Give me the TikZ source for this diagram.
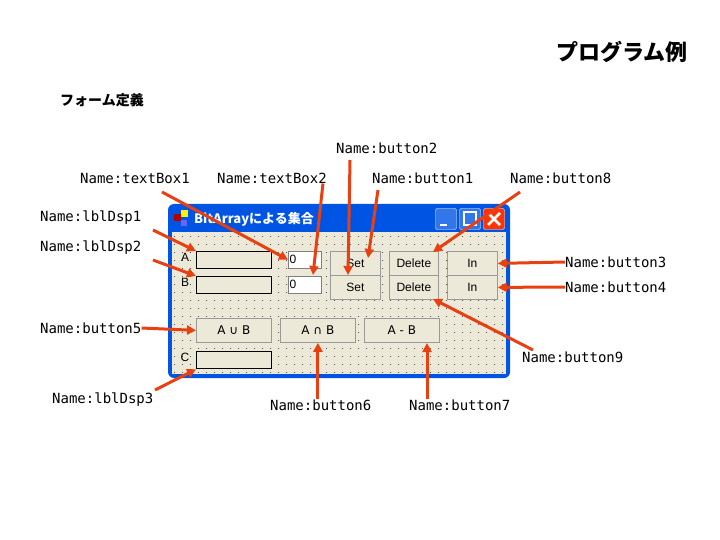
\documentclass[tikz,border=0pt]{standalone}
\usepackage{fontspec}
\newfontfamily\jp{Noto Sans CJK JP}
\newfontfamily\mono{DejaVu Sans Mono}
\newfontfamily\ui{Liberation Sans}
\newfontfamily\djsans{DejaVu Sans}
\definecolor{arr}{RGB}{232,64,16}
\definecolor{beige}{RGB}{236,233,216}
\definecolor{xpblue}{RGB}{0,84,227}
\tikzset{
  lbl/.style={font=\mono\fontsize{14}{16}\selectfont, inner sep=0pt, anchor=west},
  pt/.style={-{Triangle[length=9pt,width=9pt]}, arr, line width=3pt},
  tbox/.style={draw=black, line width=1.3pt, fill=beige, minimum width=75pt, minimum height=17pt, inner sep=0pt, anchor=north west},
  wbox/.style={draw=gray, fill=white, minimum width=33pt, minimum height=17pt, inner sep=1pt, anchor=north west, font=\ui\fontsize{12}{13}\selectfont, align=left, text width=30pt},
  btn/.style={draw=gray!80, line width=0.8pt, fill=beige, inner sep=0pt, anchor=north west, font=\ui\fontsize{12}{13}\selectfont},
  clbl/.style={font=\ui\fontsize{12}{13}\selectfont, inner sep=0pt}
}
\usetikzlibrary{arrows.meta}
\begin{document}
\begin{tikzpicture}[x=1pt,y=-1pt]
\useasboundingbox (0,0) rectangle (720,540);
\node[font=\jp\bfseries\fontsize{22}{24}\selectfont, anchor=east, inner sep=0pt] (title) at (688,52) {プログラム例};
\node[font=\jp\bfseries\fontsize{14}{16}\selectfont, anchor=west, inner sep=0pt] (sub) at (60,100) {フォーム定義};
% window
\fill[xpblue, rounded corners=6pt] (168,204) rectangle (510,378);
\fill[beige] (172,232) rectangle (506,374);
\foreach \y in {236,244,...,372}{
  \draw[black!70, line width=0.9pt, dash pattern=on 0.9pt off 7.1pt] (174,\y) -- (506,\y);
}
\node[fill=red!70!black, minimum size=7pt, inner sep=0pt] (ic1) at (177,218) {};
\node[fill=yellow, minimum size=7pt, inner sep=0pt] (ic2) at (184,214) {};
\node[fill=blue!60, minimum size=6pt, inner sep=0pt] (ic3) at (184,223) {};
\node[font=\jp\bfseries\fontsize{13}{14}\selectfont, text=white, anchor=west, inner sep=0pt] (wt) at (194,219) {BitArrayによる集合};
\node[draw=white, fill=xpblue!80, rounded corners=2pt, minimum width=21pt, minimum height=21pt, inner sep=0pt] (mn) at (446,219) {};
\draw[white, line width=2.5pt] (440,225) -- (447,225);
\node[draw=white, fill=xpblue!80, rounded corners=2pt, minimum width=21pt, minimum height=21pt, inner sep=0pt] (mx) at (470,219) {};
\draw[white, line width=1.5pt] (464,212) rectangle (476,225);
\node[draw=white, fill=red!60!orange, rounded corners=2pt, minimum width=21pt, minimum height=21pt, inner sep=0pt] (cl) at (494,219) {};
\draw[white, line width=2.5pt] (488,213) -- (500,225) (500,213) -- (488,225);
% controls
\node[clbl] (la) at (185,257) {A};
\node[clbl] (lb) at (185,282) {B};
\node[clbl] (lc) at (185,357) {C};
\node[tbox] (dsp1) at (196,251) {};
\node[tbox] (dsp2) at (196,276) {};
\node[tbox] (dsp3) at (196,351) {};
\node[wbox] (tb1) at (288,251) {0};
\node[wbox] (tb2) at (288,276) {0};
\node[btn, minimum width=50pt, minimum height=24pt] (b1) at (330,251) {Set};
\node[btn, minimum width=50pt, minimum height=24pt] (b2) at (330,275) {Set};
\node[btn, minimum width=49pt, minimum height=24pt] (b8) at (389,251) {Delete};
\node[btn, minimum width=49pt, minimum height=24pt] (b9) at (389,275) {Delete};
\node[btn, minimum width=50pt, minimum height=24pt] (b3) at (447,251) {In};
\node[btn, minimum width=50pt, minimum height=24pt] (b4) at (447,275) {In};
\node[btn, minimum width=75pt, minimum height=24pt, font=\djsans\fontsize{12}{13}\selectfont] (b5) at (196,318) {A ∪ B};
\node[btn, minimum width=75pt, minimum height=24pt, font=\djsans\fontsize{12}{13}\selectfont] (b6) at (280,318) {A ∩ B};
\node[btn, minimum width=75pt, minimum height=24pt, font=\djsans\fontsize{12}{13}\selectfont] (b7) at (364,318) {A - B};
% labels
\node[lbl] (n2) at (336,148) {Name:button2};
\node[lbl] (nt1) at (80,178) {Name:textBox1};
\node[lbl] (nt2) at (217,178) {Name:textBox2};
\node[lbl] (n1) at (372,178) {Name:button1};
\node[lbl] (n8) at (510,178) {Name:button8};
\node[lbl] (nl1) at (40,218) {Name:lblDsp1};
\node[lbl] (nl2) at (40,248) {Name:lblDsp2};
\node[lbl] (n3) at (565,262) {Name:button3};
\node[lbl] (n4) at (565,287) {Name:button4};
\node[lbl] (n5) at (40,328) {Name:button5};
\node[lbl] (n9) at (522,357) {Name:button9};
\node[lbl] (nl3) at (52,400) {Name:lblDsp3};
\node[lbl] (n6) at (270,405) {Name:button6};
\node[lbl] (n7) at (409,405) {Name:button7};
% arrows
\coordinate (s1) at (162,192);
\draw[pt] (s1) -- (tb1.west);
\draw[pt] ([xshift=-4pt]nt2.south east) -- (313,275);
\draw[pt] (350,160) -- (b2.north west -| 348,272);
\draw[pt] (378,190) -- (368,258);
\draw[pt] (520,192) -- (433,252);
\draw[pt] (153,230) -- (dsp1.north west);
\draw[pt] (153,260) -- (dsp2.north west);
\draw[pt] (n3.west) -- (b3.east);
\draw[pt] (n4.west) -- (b4.east);
\draw[pt] (n5.east) -- (b5.west);
\draw[pt] (533,350) -- (433,299);
\draw[pt] (155,390) -- (dsp3.south west);
\draw[pt] (n6.north -| b6.south) -- (b6.south);
\draw[pt] (n7.north -| 427,0) -- (427,343);
\end{tikzpicture}
\end{document}
